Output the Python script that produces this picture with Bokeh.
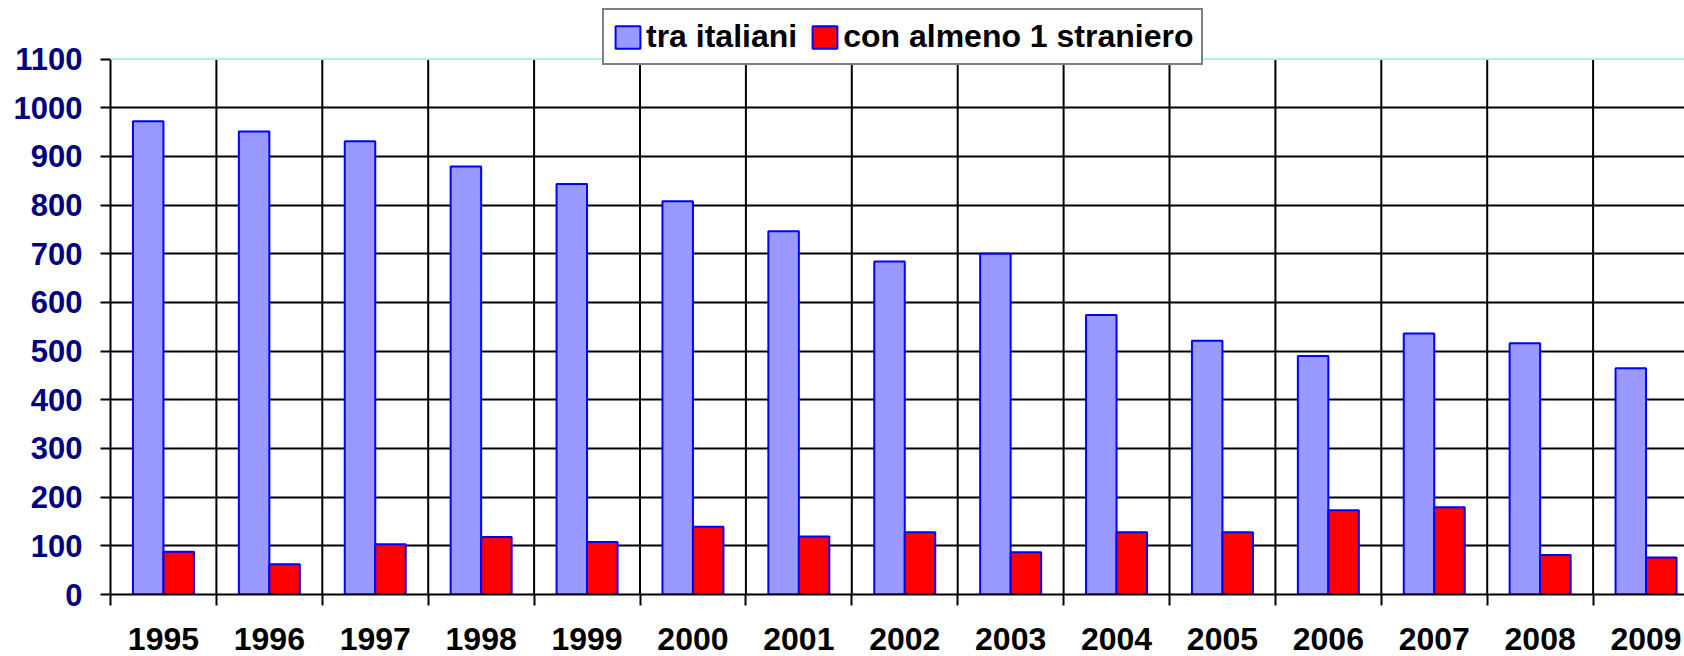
from bokeh.plotting import figure
from bokeh.models import (ColumnDataSource, Range1d, FixedTicker, Span, Legend,
                          LegendItem)
from bokeh.transform import dodge
from bokeh.embed import file_html
from bokeh.resources import INLINE

# ---- data ----
years = ["1995", "1996", "1997", "1998", "1999", "2000", "2001", "2002",
         "2003", "2004", "2005", "2006", "2007", "2008", "2009"]
tra_italiani = [972, 951, 931, 879, 843, 808, 746, 684, 700, 574, 521, 490, 536, 516, 465]
con_straniero = [88, 62, 103, 118, 108, 139, 119, 128, 87, 128, 128, 173, 179, 81, 76]
y_ticks = [0, 100, 200, 300, 400, 500, 600, 700, 800, 900, 1000, 1100]

idx = list(range(len(years)))
src = ColumnDataSource(dict(x=idx, ita=tra_italiani, stra=con_straniero))
y_max = y_ticks[-1]
bounds_src = ColumnDataSource(dict(b=[i + 0.5 for i in idx],
                                   y0=[0] * len(idx), y1=[y_max] * len(idx)))

FONT = "Liberation Sans"
cat_px = 105.9
frame_w = 1574
frame_h = 594            # frame spans top of figure down to the x axis
plot_h = 535.5           # pixel height of 0..1100

p = figure(width=1684, height=656, output_backend="svg", toolbar_location=None,
           x_range=Range1d(-0.5, -0.5 + frame_w / cat_px),
           y_range=Range1d(0, y_max * frame_h / plot_h))
p.min_border = 0
p.min_border_left = 110
p.min_border_right = 0
p.min_border_top = 0
p.min_border_bottom = 62
p.outline_line_color = None
p.background_fill_color = "white"
p.border_fill_color = "white"

# vertical category separators (limited to 0..1100)
p.xgrid.visible = False
p.segment(x0="b", y0="y0", x1="b", y1="y1", source=bounds_src,
          line_color="black", line_width=2)

p.ygrid.ticker = FixedTicker(ticks=y_ticks[1:-1])
p.ygrid.grid_line_color = "black"
p.ygrid.grid_line_width = 2
p.add_layout(Span(location=y_max, dimension="width", line_color="#aeeef0", line_width=2))

bw = 0.288
r1 = p.vbar(x=dodge("x", -bw / 2, range=p.x_range), width=bw, top="ita", bottom=0,
            source=src, fill_color="#9999FF", line_color="#0000FF", line_width=2)
r2 = p.vbar(x=dodge("x", bw / 2, range=p.x_range), width=bw, top="stra", bottom=0,
            source=src, fill_color="#FF0000", line_color="#0000FF", line_width=2)

# y axis
ya = p.yaxis[0]
ya.ticker = FixedTicker(ticks=y_ticks)
ya.bounds = (0, y_max)
ya.axis_line_color = "black"
ya.axis_line_width = 2
ya.major_tick_line_color = "black"
ya.major_tick_line_width = 2
ya.major_tick_out = 10
ya.major_tick_in = 0
ya.minor_tick_line_color = None
ya.major_label_standoff = 18
ya.major_label_text_font = FONT
ya.major_label_text_font_style = "bold"
ya.major_label_text_font_size = "31px"
ya.major_label_text_color = "#000080"

# x axis: labels at centres, ticks at category boundaries
xa = p.xaxis[0]
xa.ticker = FixedTicker(ticks=idx, minor_ticks=[i - 0.5 for i in idx])
xa.major_label_overrides = {i: y for i, y in zip(idx, years)}
xa.axis_line_color = "black"
xa.axis_line_width = 2
xa.major_tick_line_color = None
xa.major_tick_out = 0
xa.major_tick_in = 0
xa.minor_tick_line_color = "black"
xa.minor_tick_line_width = 2
xa.minor_tick_out = 11
xa.minor_tick_in = 0
xa.major_label_standoff = 22
xa.major_label_text_font = FONT
xa.major_label_text_font_style = "bold"
xa.major_label_text_font_size = "32px"
xa.major_label_text_color = "black"

legend = Legend(
    items=[LegendItem(label="tra italiani", renderers=[r1]),
           LegendItem(label="con almeno 1 straniero", renderers=[r2])],
    orientation="horizontal",
    location=(492, 529),
    border_line_color="black", border_line_width=2,
    background_fill_color="white", background_fill_alpha=1.0,
    padding=8, spacing=12, margin=0,
    label_standoff=3, glyph_width=31, glyph_height=28,
    label_text_font=FONT, label_text_font_style="bold",
    label_text_font_size="32px", label_text_color="black",
)
p.add_layout(legend, "center")

open("out.html", "w").write(file_html(p, INLINE))
